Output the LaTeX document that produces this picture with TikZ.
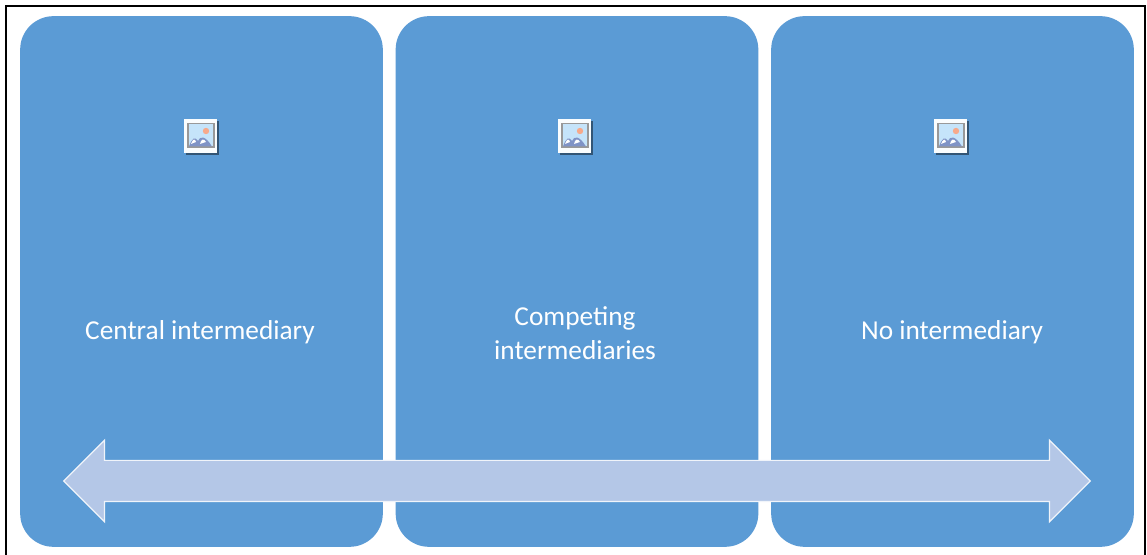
\documentclass[tikz,border=0pt]{standalone}
\usepackage{fontspec}
\setmainfont{Carlito}
\usetikzlibrary{shapes.arrows}
\definecolor{panelblue}{HTML}{5B9BD5}
\definecolor{arrowblue}{HTML}{B4C7E7}
\definecolor{iconsky}{HTML}{C5E4FA}
\definecolor{iconpeak}{HTML}{7F93C6}
\definecolor{iconsun}{HTML}{F7A98A}
\tikzset{
  panel/.style={draw=none,fill=panelblue,rounded corners=25pt,minimum width=272pt,minimum height=398pt,inner sep=0pt},
  paneltext/.style={text=white,font=\fontsize{20.5pt}{25.5pt}\selectfont,align=center,inner sep=0pt},
  spanarrow/.style={double arrow,draw=white!80!arrowblue,line width=0.9pt,fill=arrowblue,minimum width=60.5pt,minimum height=770pt,
    double arrow head extend=15.2pt,inner sep=0pt,text height=0pt,text depth=0pt,text width=0pt,inner ysep=15pt},
  imageicon/.pic={
    \fill[black!45!panelblue] (-15.5,-15) rectangle (18,19);
    \fill[white!92!iconsky] (-17,-17) rectangle (16,17);
    \fill[black!40!white] (-14,-13) rectangle (13.5,12);
    \fill[iconsky] (-12.5,-11.5) rectangle (12,10.5);
    \fill[iconsun] (5,-5) circle (3.2);
    \fill[iconpeak] (-12,10.5) .. controls (-9,2) and (-6,0) .. (-3,5) .. controls (-1,0) and (4,-1) .. (11,10.5) -- cycle;
    \fill[white] (-10,8) .. controls (-8,3) and (-6,2) .. (-5,6) -- cycle;
    \fill[white] (-1,8) .. controls (0,3) and (3,2) .. (5,6) -- cycle;
  }
}
\begin{document}
\begin{tikzpicture}[x=0.75pt,y=-0.75pt]
  \useasboundingbox (0,0) rectangle (1147,555);
  \fill[white] (0,0) rectangle (1147,555);
  \draw[black,line width=1.9pt] (6,555) -- (6,6) -- (1145,6) -- (1145,555);

  \node[panel] (left) at (201.5,281.5) {};
  \node[panel] (middle) at (577,281.5) {};
  \node[panel] (right) at (952.5,281.5) {};

  \pic at (201,136) {imageicon};
  \pic at (575,136) {imageicon};
  \pic at (951,136) {imageicon};

  \node[paneltext] (central) at (200,332) {Central intermediary};
  \node[paneltext] (competing) at (575,333) {Competing\\intermediaries};
  \node[paneltext] (none) at (952,332) {No intermediary};

  \node[spanarrow] (span) at (577,481) {};
\end{tikzpicture}
\end{document}
